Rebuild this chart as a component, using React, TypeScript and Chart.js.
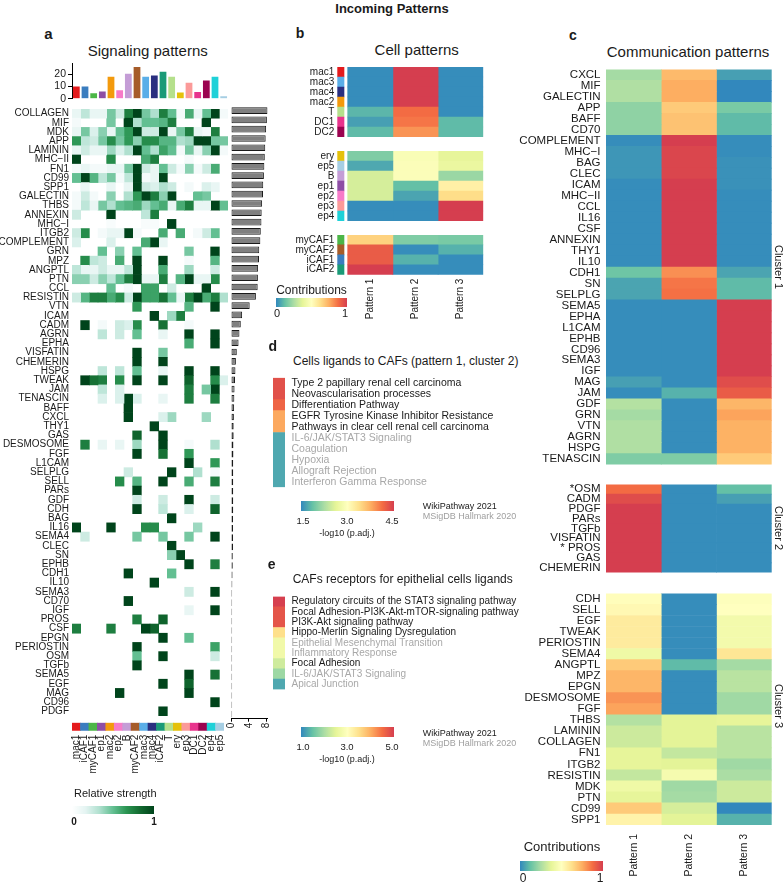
import React, { useEffect, useRef } from 'react';
import { Chart, registerables } from 'chart.js';
Chart.register(...registerables);

const FONT = "'Liberation Sans', Arial, Helvetica, sans-serif";
Chart.defaults.font.family = FONT;
Chart.defaults.color = '#1a1a1a';

// ---------------- DATA ----------------
const aColumns = ['mac1','iCAF1','myCAF1','ep1','mac2','ep2','B','myCAF2','mac3','mac4','iCAF2','T','ery','ep3','DC1','DC2','ep4','ep5'];
const aColumnColors = ['#e41a1c','#3a7dbf','#4cb648','#8e4ea5','#f39a0d','#f77bc8','#c49dd6','#a65c2a','#5aaee8','#2a2f80','#1a9a77','#b5e08c','#e5c10a','#fb9a99','#e8348d','#9b0350','#1fd1d8','#a6cee3'];
const aTopTotals = [10,10,4.5,6,18,7,20.5,26,18,19,22,18,5,13,5.5,15,18,2];
const aRows = ['COLLAGEN','MIF','MDK','APP','LAMININ','MHC\u2212II','FN1','CD99','SPP1','GALECTIN','THBS','ANNEXIN','MHC\u2212I','ITGB2','COMPLEMENT','GRN','MPZ','ANGPTL','PTN','CCL','RESISTIN','VTN','ICAM','CADM','AGRN','EPHA','VISFATIN','CHEMERIN','HSPG','TWEAK','JAM','TENASCIN','BAFF','CXCL','THY1','GAS','DESMOSOME','FGF','L1CAM','SELPLG','SELL','PARs','GDF','CDH','BAG','IL16','SEMA4','CLEC','SN','EPHB','CDH1','IL10','SEMA3','CD70','IGF','PROS','CSF','EPGN','PERIOSTIN','OSM','TGFb','SEMA5','EGF','MAG','CD96','PDGF'];
const aRowTotals = [8.2,8.07,7.9,7.8,7.7,7.6,7.5,7.4,7.25,7.2,7.0,6.9,6.85,6.7,6.6,6.35,6.3,6.1,6.05,6.0,5.6,4.2,2.5,2.2,1.9,1.7,1.3,1.1,1.0,0.9,0.8,0.75,0.7,0.65,0.6,0.6,0.55,0.55,0.5,0.5,0.5,0.5,0.5,0.5,0.45,0.45,0.45,0.45,0.4,0.4,0.35,0.3,0.25,0.25,0.25,0.25,0.25,0.25,0.25,0.25,0.25,0.25,0.25,0.25,0.25,0.25];
const aStrength: number[][] = [
  [0.1,0.25,0.1,0.1,0.45,0.2,0.8,1,0.45,0.3,0.8,0.5,0.05,0.6,0.1,0.5,1,0.05],
  [0.05,0,0,0,0.45,0,1,0.3,0.5,0.5,0.55,0.8,0,0,0,1,0,0],
  [0.1,0.45,0.15,0.4,0.1,0.5,0.7,1,0.2,0.2,1,0.1,0.45,0.8,0.1,0.05,0.8,0],
  [0.7,0.25,0.2,0.45,0.75,0.45,0.7,0.4,0.75,0.75,0.55,0.55,0.3,0.35,1,1,0.45,0.45],
  [0.1,0.2,0.1,0.1,0.35,0.15,0.3,1,0.5,0.3,0.65,0.5,0.05,0.45,0.1,0.4,1,0.05],
  [1,0,0,0,0.75,0,0,0,0.6,0.8,0,0,0,0.05,0,0,0,0],
  [0.05,0.1,0.05,0.05,0.1,0.1,0.45,1,0.2,0.1,0.5,0.2,0.05,0.4,0.05,0.2,0.6,0],
  [0.5,1,0.55,0.25,0.45,0.05,0.25,1,0.05,0.1,1,0,0,0,0,0,0,0],
  [0,0.1,0,0,0.1,0,0.1,1,0.2,0.15,0.3,0.2,0,0.05,0,0.15,0.1,0],
  [0.05,0.2,0.05,0,0.4,0,0.3,0.7,1,0.8,0.4,1,0,0,0.5,0.45,0,0],
  [0.05,0.25,0.1,0.45,0.3,0.5,0.55,0.6,0.35,0.5,0.6,0.1,0.6,0.8,0.1,0.1,1,0.5],
  [0.2,0,0,0,1,0,0,0,0.25,0.8,0,0,0,0,0,0,0,0],
  [0,0,0,0,0.03,0,0,0,0.03,0.03,0,1,0,0,0,0,0,0],
  [0.2,0.75,0,0.05,0.1,0.1,1,0.05,0,0,0.6,0,0.6,0,0.05,0.2,0.5,0],
  [0.15,0,0,0,0.15,0,0,0,0.6,1,0.1,0,0,0,0,0,0,0],
  [0,0,0,0.5,0,0.4,0,0.5,0,0,0,0,0,0.45,0,0,1,0],
  [0,0.75,0.25,0.2,0,0.6,0,1,0,0,1,0,0,0.05,0,0,0.55,0],
  [0.25,0.1,0.1,0.2,0.1,0.1,0.25,1,0,0,0.6,0,0,0.35,0,0,0.2,0],
  [0.4,0.4,0.2,0.4,0.25,0.5,0.8,1,0.1,0.1,0.8,0,0.55,1,0.1,0.1,0.75,0],
  [0,0,0,0,0.5,0,0.05,0,0.65,0.65,0,0.2,0,0,0,1,0,0],
  [0.2,0.55,0.8,0.8,0.6,0.75,0.2,1,0.65,0.65,0.85,0.5,0.1,0.8,1,0.6,0.8,0.3],
  [0,0,0,0,0,0,0,0.7,0,0,0,0,0,0.55,0,0,1,0],
  [0,0,0,0,0,0,0,0,0,1,0,0.35,0.8,0,0,0,0,0],
  [0,1,0,0.05,0,0.2,0.15,0.75,0,0,0.85,0,0,0.05,0,0,0,0],
  [0,0,0,0.25,0,0.2,0,0.5,0,0,0.1,0,0,1,0,0,1,0],
  [0,0,0,0,0,0,0,0,0,0,0,0,0,0.6,0,0,1,0],
  [0,0,0,0,0,0,0,1,0,0,0.45,0,0,0,0,0,0,0],
  [0,0,0,0,0,0,0,1,0,0,1,0,0,0,0,0,0,0],
  [0,0,0,0.25,0,0.25,0,0.5,0,0,0.1,0,0,1,0,0,1,0],
  [0,1,0.85,0.8,0,0.75,0,1,0,0,1,0,0,0.9,0,0,0.75,0.15],
  [0,0,0,0.25,0,0.15,0,0,0,0,0,0,0,0.8,0,0.45,1,0],
  [0,0,0,0.15,0,0.15,1,0.15,0,0,0.1,0,0,0.8,0,0,0.8,0],
  [0,0,0,0,0,0,1,0,0,0,0,0,0,0,0,0,0,0],
  [0,0,0,0,0,0,1,0,0,0,0.15,0.35,0,0,0,0.35,0,0],
  [0,0,0,0,0,0,0,0,0,1,0,0,0,0,0,0,0,0],
  [0,0,0,0,0,0,0,0.9,0,0,1,0,0,0,0,0,0,0],
  [0,0.8,0,0.1,0,0.1,0,0.35,0,0,1,0,0,0.05,0,0,0.3,0],
  [0,0,0,0,0,0,0,1,0,0,0.85,0,0,0.7,0,0,0,0],
  [0,0,0,0,0,0,0,0,0,0,0,0,0,1,0,0,0.7,0],
  [0,0,0,0,0,0,0.2,0,0,0,0,1,0,0,0.3,0,0.05,0],
  [0,0,0,0,0,0.75,0,0.55,0,0,1,0,0,0.6,0,0,0.8,0],
  [0,0,0,0,0,0,0,1,0,0,0,0,0,0,0,0,0,0],
  [0,0,0,0,0,0,0,0.2,0,0,0.2,0,0,1,0,0,0.2,0],
  [0,0,0,0,0,0,0,1,0,0,0.25,0,0,0.15,0,0,0.9,0],
  [0,0,0,0,0,0,0,0,0,0,0,1,0,0,0,0,0,0],
  [1,0,0,0,1,0,0,0,0.75,0.75,0,0,0,0,0.35,0,0,0],
  [0,0.2,0,0,0,0,0,0.45,0,0,0.45,0,0,0.45,0,0,1,0],
  [0,0,0,0,0,0,0,0,0,0,0,1,0,0,0,0,0,0],
  [0,0,0,0,0,0,0,0,0,0,0,0.4,1,0,0,0,0,0],
  [0,0,0,0,0,0,0,0,0,0,0,0,0,1,0,0,0.8,0],
  [0,0,0,0,0,0,1,0,0,0,0,0.5,0,0,0,0,0,0],
  [0,0,0,0,0,0,0,0,0,1,0,0,0,0,0,0,0,0],
  [0,0,0,0,0,0,0,0,0,0,0,0,0,0.2,0,0,1,0],
  [0,0,0,0,0,0,1,0,0,0,0,0,0,0,0,0,0,0],
  [0,0,0,0,0,0,0,0,0,0,0,0,0,0.1,0,0,1,0],
  [0,0,0,0,0,0,0,0.8,0,0,0.9,0,0,0,0,0,0,0],
  [0.8,0,0,0,0.8,0,0,0,1,0.9,0,0,0,0,0,0,0,0],
  [0,0,0,0,0,0,0,0,0,0,1,0,0,0.5,0,0,0,0],
  [0,0,0,0,0,0,0,1,0,0,0,0,0,0,0,0,0.65,0],
  [0,0,0,0,0,0,0,0.5,0,0,1,0,0,0,0,0,0.2,0],
  [0,0,0,0,0,0,0,1,0,0,0,0,0,0,0,0,0,0],
  [0,0,0,0,0,0,0,0,0,0,0,0,0,1,0,0,0.85,0],
  [0,0,0,0,0,0,0,0,0,0,1,0,0,0.9,0,0,0,0],
  [0,0,0,0,0,1,0,0,0,0,0,0,0,1,0,0,0,0],
  [0,0,0,0,0,0,0,0,0,0,0,0,0,0,0,0,1,0],
  [0,0,0,0,0,0,0,0,0,0,1,0,0,0,0,0,0,0],
];

const patternLabels = ['Pattern 1','Pattern 2','Pattern 3'];

const bRows1 = ['mac1','mac3','mac4','mac2','T','DC1','DC2'];
const bVals1 = [[0.01,1,0.01],[0.01,1,0.01],[0.01,1,0.01],[0.01,1,0.01],[0.1,0.88,0.01],[0.05,0.86,0.11],[0.11,0.8,0.11]];
const bRows2 = ['ery','ep5','B','ep1','ep2','ep3','ep4'];
const bVals2 = [[0.17,0.47,0.38],[0.07,0.48,0.4],[0.34,0.48,0.22],[0.34,0.12,0.56],[0.34,0.06,0.63],[0.01,0.01,1],[0.01,0.01,1]];
const bRows3 = ['myCAF1','myCAF2','iCAF1','iCAF2'];
const bVals3 = [[0.66,0.17,0.16],[0.92,0.01,0.09],[0.92,0.09,0.01],[1,0.01,0.01]];

const cRows1 = ['CXCL','MIF','GALECTIN','APP','BAFF','CD70','COMPLEMENT','MHC\u2212I','BAG','CLEC','ICAM','MHC\u2212II','CCL','IL16','CSF','ANNEXIN','THY1','IL10','CDH1','SN','SELPLG','SEMA5','EPHA','L1CAM','EPHB','CD96','SEMA3','IGF','MAG','JAM','GDF','GRN','VTN','AGRN','HSPG','TENASCIN'];
const cVals1 = [
  [0.24,0.72,0.05],[0.26,0.75,0.0],[0.26,0.75,0.0],[0.2,0.68,0.16],[0.2,0.7,0.11],[0.2,0.7,0.11],
  [0.01,1,0.01],[0.03,0.98,0.01],[0.03,0.98,0.02],[0.03,0.98,0.02],[0.01,1,0.02],[0.01,1,0.01],
  [0.01,1,0.01],[0.01,1,0.01],[0.01,1,0.01],[0.01,1,0.01],[0.01,1,0.01],[0.01,1,0.01],
  [0.14,0.81,0.06],[0.06,0.86,0.11],[0.06,0.87,0.11],[0.01,0.01,1],[0.01,0.01,1],[0.01,0.01,1],
  [0.01,0.01,1],[0.01,0.01,1],[0.01,0.01,1],[0.01,0.01,1],[0.05,0.01,0.96],[0.01,0.09,0.92],
  [0.27,0.01,0.73],[0.24,0.01,0.77],[0.26,0.01,0.74],[0.26,0.01,0.74],[0.26,0.01,0.74],[0.17,0.17,0.68],
];
const cRows2 = ['*OSM','CADM','PDGF','PARs','TGFb','VISFATIN','* PROS','GAS','CHEMERIN'];
const cVals2 = [[0.88,0.01,0.12],[0.96,0.01,0.05],[1,0.01,0.01],[1,0.01,0.01],[1,0.01,0.01],[1,0.01,0.01],[1,0.01,0.01],[1,0.01,0.01],[1,0.01,0.01]];
const cRows3 = ['CDH','SELL','EGF','TWEAK','PERIOSTIN','SEMA4','ANGPTL','MPZ','EPGN','DESMOSOME','FGF','THBS','LAMININ','COLLAGEN','FN1','ITGB2','RESISTIN','MDK','PTN','CD99','SPP1'];
const cVals3 = [
  [0.51,0.01,0.49],[0.53,0.01,0.5],[0.58,0.01,0.44],[0.58,0.01,0.44],[0.58,0.01,0.44],[0.42,0.01,0.6],
  [0.68,0.11,0.24],[0.73,0.01,0.28],[0.73,0.01,0.28],[0.8,0.01,0.23],[0.77,0.01,0.23],[0.27,0.37,0.38],
  [0.32,0.37,0.28],[0.32,0.37,0.28],[0.38,0.3,0.28],[0.38,0.37,0.23],[0.3,0.45,0.25],[0.42,0.23,0.32],
  [0.38,0.24,0.32],[0.68,0.34,0.0],[0.55,0.37,0.09],
];

const dTerms = ['Type 2 papillary renal cell carcinoma','Neovascularisation processes','Differentiation Pathway','EGFR Tyrosine Kinase Inhibitor Resistance','Pathways in clear cell renal cell carcinoma','IL-6/JAK/STAT3 Signaling','Coagulation','Hypoxia','Allograft Rejection','Interferon Gamma Response'];
const dScores = [4.35,4.35,4.2,3.78,3.78,1.71,1.71,1.71,1.71,1.71];
const dSources = ['wiki','wiki','wiki','wiki','wiki','msig','msig','msig','msig','msig'];
const eTerms = ['Regulatory circuits of the STAT3 signaling pathway','Focal Adhesion-PI3K-Akt-mTOR-signaling pathway','PI3K-Akt signaling pathway','Hippo-Merlin Signaling Dysregulation','Epithelial Mesenchymal Transition','Inflammatory Response','Focal Adhesion','IL-6/JAK/STAT3 Signaling','Apical Junction'];
const eScores = [4.98,4.76,4.76,3.5,2.72,2.72,2.3,1.9,1.28];
const eSources = ['wiki','wiki','wiki','wiki','msig','msig','wiki','msig','msig'];

// ---------------- COLOUR HELPERS ----------------
type Stop = [number, string];
const SPECTRAL: Stop[] = [[0,'#3288bd'],[0.125,'#66c2a5'],[0.25,'#abdda4'],[0.375,'#e6f598'],[0.5,'#ffffbf'],[0.625,'#fee08b'],[0.75,'#fdae61'],[0.875,'#f46d43'],[1,'#d53e4f']];
const GREENS: Stop[] = [[0,'#ffffff'],[0.12,'#e4f4f2'],[0.3,'#b0e0cf'],[0.5,'#63bf92'],[0.72,'#2a9451'],[0.88,'#12692f'],[1,'#00441b']];
function hex(h: string) { return [parseInt(h.slice(1,3),16),parseInt(h.slice(3,5),16),parseInt(h.slice(5,7),16)]; }
function ramp(stops: Stop[], t: number) {
  t = Math.max(0, Math.min(1, t));
  for (let i = 1; i < stops.length; i++) {
    if (t <= stops[i][0]) {
      const [t0,c0] = stops[i-1]; const [t1,c1] = stops[i];
      const f = (t - t0) / (t1 - t0); const a = hex(c0), b = hex(c1);
      return `rgb(${Math.round(a[0]+(b[0]-a[0])*f)},${Math.round(a[1]+(b[1]-a[1])*f)},${Math.round(a[2]+(b[2]-a[2])*f)})`;
    }
  }
  return stops[stops.length-1][1];
}
const spectral = (t: number) => ramp(SPECTRAL, t);
const greens = (t: number) => (t <= 0 ? 'rgba(0,0,0,0)' : ramp(GREENS, t));
const cellColor: Record<string,string> = {};
aColumns.forEach((c, i) => { cellColor[c] = aColumnColors[i]; });
const SPECTRAL_CSS = `linear-gradient(to right, ${SPECTRAL.map(s => s[1]).join(',')})`;
const GREENS_CSS = `linear-gradient(to right, ${GREENS.map(s => s[1]).join(',')})`;

// ---------------- CHART HELPERS ----------------
function baseOpts(pad: any, scales: any, extra: any = {}) {
  return {
    responsive: false, animation: false, devicePixelRatio: 1,
    layout: { padding: pad },
    plugins: { legend: { display: false }, tooltip: { enabled: false } },
    scales, ...extra,
  };
}
function heatDatasets(vals: number[][], nCols: number, colorFn: (v: number) => string) {
  const ds: any[] = [];
  for (let j = 0; j < nCols; j++) {
    ds.push({ data: vals.map(() => [j, j + 1]), backgroundColor: vals.map(r => colorFn(r[j])), borderWidth: 0, barPercentage: 1, categoryPercentage: 1, grouped: false });
  }
  return ds;
}
const noGrid = { display: false, drawTicks: false };
const patternAxis = (min: number, size: number, pad: number, h: number) => ({
  type: 'linear', min, max: 3,
  afterBuildTicks: (s: any) => { s.ticks = [0.5, 1.5, 2.5].map(v => ({ value: v })); },
  afterFit: (s: any) => { s.height = h; },
  grid: noGrid, border: { display: false },
  ticks: { font: { size }, padding: pad, minRotation: 90, maxRotation: 90, color: '#1a1a1a', callback: (v: number) => patternLabels[Math.round(v - 0.5)] },
});

function ChartBox({ l, t, w, h, config }: { l: number; t: number; w: number; h: number; config: any }) {
  const ref = useRef<HTMLCanvasElement>(null);
  useEffect(() => {
    const chart = new Chart(ref.current as HTMLCanvasElement, config);
    return () => chart.destroy();
  }, []);
  return <canvas ref={ref} width={w} height={h} style={{ position: 'absolute', left: l, top: t, width: w, height: h }} />;
}

function Txt({ x, y, size, children, align = 'left', bold = false, color = '#1a1a1a', rotate = 0 }: any) {
  const tx = align === 'center' ? '-50%' : align === 'right' ? '-100%' : '0';
  return (
    <div style={{ position: 'absolute', left: x, top: y, fontSize: size, lineHeight: 1, fontWeight: bold ? 700 : 400, color, whiteSpace: 'nowrap', transform: `translate(${tx}, -50%)${rotate ? ` rotate(${rotate}deg)` : ''}` }}>{children}</div>
  );
}
function Grad({ x, y, w, h, bg }: any) {
  return <div style={{ position: 'absolute', left: x, top: y, width: w, height: h, background: bg }} />;
}

// ---------------- CONFIGS ----------------
const aTopConfig = {
  type: 'bar',
  data: { labels: aColumns, datasets: [{ data: aTopTotals, backgroundColor: aColumnColors, barPercentage: 0.78, categoryPercentage: 1, borderWidth: 0 }] },
  options: baseOpts({ left: 0, right: 6, top: 8, bottom: 5.3 }, {
    x: { display: false },
    y: {
      min: 0, max: 29,
      afterBuildTicks: (s: any) => { s.ticks = [0, 10, 20].map(v => ({ value: v })); },
      afterFit: (s: any) => { s.width = 72; },
      grid: { display: true, drawOnChartArea: false, drawTicks: true, tickLength: 4, color: '#000' },
      border: { display: true, color: '#000' },
      ticks: { font: { size: 10.5 }, padding: 2, color: '#1a1a1a' },
    },
  }),
};

const aHeatConfig = {
  type: 'bar',
  data: { labels: aRows, datasets: heatDatasets(aStrength, aColumns.length, greens) },
  options: { indexAxis: 'y', ...baseOpts({ left: 0, right: 6, top: 6, bottom: 6.3 }, {
    x: { display: false, type: 'linear', min: 0, max: aColumns.length },
    y: { afterFit: (s: any) => { s.width = 72; }, grid: noGrid, border: { display: false }, ticks: { font: { size: 10 }, padding: 3, autoSkip: false, color: '#1a1a1a' } },
  }) },
};

const aStripConfig = {
  type: 'bar',
  data: { labels: aColumns, datasets: [{ data: aColumns.map(() => [0, 1]), backgroundColor: aColumnColors, barPercentage: 1, categoryPercentage: 1, borderWidth: 0 }] },
  options: baseOpts({ left: 72, right: 8, top: 6.7, bottom: 0 }, {
    y: { display: false, min: 0, max: 1 },
    x: { afterFit: (s: any) => { s.height = 59.3; }, grid: noGrid, border: { display: false }, ticks: { font: { size: 10 }, padding: 4, minRotation: 90, maxRotation: 90, autoSkip: false, color: '#1a1a1a' } },
  }),
};

const aRightConfig = {
  type: 'bar',
  data: { labels: aRows, datasets: [{ data: aRowTotals, backgroundColor: '#808080', borderColor: '#1a1a1a', borderWidth: 1, borderSkipped: false, barPercentage: 0.72, categoryPercentage: 1 }] },
  options: { indexAxis: 'y', ...baseOpts({ left: 9, right: 12, top: 6, bottom: 0 }, {
    y: { display: false },
    x: {
      min: 0, max: 8.3,
      afterBuildTicks: (s: any) => { s.ticks = [0, 2, 4, 6, 8].map(v => ({ value: v })); },
      afterFit: (s: any) => { s.height = 31.3; },
      grid: { display: true, drawOnChartArea: false, drawTicks: true, tickLength: 3, color: '#000' },
      border: { display: true, color: '#000' },
      ticks: { font: { size: 10 }, padding: 1, minRotation: 90, maxRotation: 90, color: '#1a1a1a' },
    },
  }) },
};

function bConfig(rows: string[], vals: number[][], pad: any, showX: boolean, xh: number) {
  const datasets = heatDatasets(vals, 3, spectral);
  datasets.push({ data: rows.map(() => [-0.23, -0.082]), backgroundColor: rows.map(r => cellColor[r]), borderWidth: 0, barPercentage: 1, categoryPercentage: 1, grouped: false });
  return {
    type: 'bar',
    data: { labels: rows, datasets },
    options: { indexAxis: 'y', ...baseOpts(pad, {
      y: { afterFit: (s: any) => { s.width = 87.3; }, grid: noGrid, border: { display: false }, ticks: { font: { size: 10 }, padding: 3, autoSkip: false, color: '#1a1a1a' } },
      x: showX ? patternAxis(-0.23, 10, 4, xh) : { display: false, type: 'linear', min: -0.23, max: 3 },
    }) },
  };
}

function cConfig(rows: string[], vals: number[][], pad: any, showX: boolean, xh: number) {
  return {
    type: 'bar',
    data: { labels: rows, datasets: heatDatasets(vals, 3, spectral) },
    options: { indexAxis: 'y', ...baseOpts(pad, {
      y: { afterFit: (s: any) => { s.width = 106; }, grid: noGrid, border: { display: false }, ticks: { font: { size: 11.5 }, padding: 5.5, autoSkip: false, color: '#1a1a1a' } },
      x: showX ? patternAxis(0, 10.5, 9, xh) : { display: false, type: 'linear', min: 0, max: 3 },
    }) },
  };
}

function termConfig(terms: string[], scores: number[], sources: string[], lo: number, hi: number, size: number, pad: any) {
  return {
    type: 'bar',
    data: { labels: terms, datasets: [{ data: terms.map(() => [0, 1]), backgroundColor: scores.map(s => spectral((s - lo) / (hi - lo))), borderWidth: 0, barPercentage: 1, categoryPercentage: 1 }] },
    options: { indexAxis: 'y', ...baseOpts(pad, {
      x: { display: false, min: 0, max: 1 },
      y: { position: 'right', afterFit: (s: any) => { s.width = 242; }, grid: noGrid, border: { display: false },
        ticks: { font: { size }, padding: 6.5, autoSkip: false, color: (ctx: any) => (sources[ctx.index] === 'wiki' ? '#1a1a1a' : '#a8a8a8') } },
    }) },
  };
}

// ---------------- APP ----------------
export default function App() {
  return (
    <div style={{ position: 'absolute', left: 0, top: 0, width: 784, height: 882, background: '#fff', fontFamily: FONT, color: '#1a1a1a', overflow: 'hidden' }}>
      <Txt x={392} y={8} size={13} bold align="center">Incoming Patterns</Txt>

      {/* Panel a */}
      <Txt x={48.5} y={33} size={15} bold align="center">a</Txt>
      <Txt x={147.7} y={50} size={15} align="center">Signaling patterns</Txt>
      <ChartBox l={0} t={55} w={234} h={52} config={aTopConfig} />
      <ChartBox l={0} t={100} w={234} h={625} config={aHeatConfig} />
      <ChartBox l={0} t={716} w={236} h={74} config={aStripConfig} />
      <ChartBox l={222} t={100} w={58} h={650} config={aRightConfig} />
      <Txt x={74} y={793} size={11}>Relative strength</Txt>
      <Grad x={72} y={806} w={82} h={8} bg={GREENS_CSS} />
      <Txt x={74} y={822} size={10} bold align="center">0</Txt>
      <Txt x={154} y={822} size={10} bold align="center">1</Txt>

      {/* Panel b */}
      <Txt x={300} y={33} size={14} bold align="center">b</Txt>
      <Txt x={416.7} y={49} size={15} align="center">Cell patterns</Txt>
      <ChartBox l={250} t={58} w={245} h={88} config={bConfig(bRows1, bVals1, { left: 0, right: 11.7, top: 5.3, bottom: 5.7 }, false, 0)} />
      <ChartBox l={250} t={142} w={245} h={88} config={bConfig(bRows2, bVals2, { left: 0, right: 11.7, top: 5.3, bottom: 5.7 }, false, 0)} />
      <ChartBox l={250} t={226} w={245} h={96} config={bConfig(bRows3, bVals3, { left: 0, right: 11.7, top: 4.7, bottom: 0 }, true, 47.3)} />
      <Txt x={311.5} y={290} size={12} align="center">Contributions</Txt>
      <Grad x={276} y={297.5} w={71} h={9} bg={SPECTRAL_CSS} />
      <Txt x={277} y={313} size={11} align="center">0</Txt>
      <Txt x={345} y={313} size={11} align="center">1</Txt>

      {/* Panel d */}
      <Txt x={272.7} y={346} size={14} bold align="center">d</Txt>
      <Txt x={293} y={361} size={12}>Cells ligands to CAFs (pattern 1, cluster 2)</Txt>
      <ChartBox l={265} t={365} w={262} h={135} config={termConfig(dTerms, dScores, dSources, 1.5, 4.5, 10.5, { left: 8, right: 0, top: 7, bottom: 6 })} />
      <Grad x={300.7} y={500.7} w={93.6} h={10} bg={SPECTRAL_CSS} />
      <Txt x={303} y={520.7} size={9.5} align="center">1.5</Txt>
      <Txt x={347} y={520.7} size={9.5} align="center">3.0</Txt>
      <Txt x={392} y={520.7} size={9.5} align="center">4.5</Txt>
      <Txt x={347} y={533} size={9} align="center">-log10 (p.adj.)</Txt>
      <Txt x={422.7} y={506} size={9}>WikiPathway 2021</Txt>
      <Txt x={422.7} y={516} size={9} color="#a0a0a0">MSigDB Hallmark 2020</Txt>

      {/* Panel e */}
      <Txt x={271.7} y={564} size={14} bold align="center">e</Txt>
      <Txt x={292.7} y={579} size={12}>CAFs receptors for epithelial cells ligands</Txt>
      <ChartBox l={265} t={584} w={262} h={118} config={termConfig(eTerms, eScores, eSources, 1.0, 5.0, 10, { left: 8, right: 0, top: 6, bottom: 6 })} />
      <Grad x={300.7} y={727} w={93.6} h={10} bg={SPECTRAL_CSS} />
      <Txt x={303} y={747} size={9.5} align="center">1.0</Txt>
      <Txt x={347} y={747} size={9.5} align="center">3.0</Txt>
      <Txt x={392} y={747} size={9.5} align="center">5.0</Txt>
      <Txt x={347} y={759} size={9} align="center">-log10 (p.adj.)</Txt>
      <Txt x={422.7} y={733} size={9}>WikiPathway 2021</Txt>
      <Txt x={422.7} y={743} size={9} color="#a0a0a0">MSigDB Hallmark 2020</Txt>

      {/* Panel c */}
      <Txt x={573} y={35} size={14} bold align="center">c</Txt>
      <Txt x={688} y={50.5} size={15} align="center">Communication patterns</Txt>
      <ChartBox l={500} t={57} w={284} h={420} config={cConfig(cRows1, cVals1, { left: 0, right: 12.3, top: 5.5, bottom: 6 }, false, 0)} />
      <ChartBox l={500} t={472} w={284} h={113} config={cConfig(cRows2, cVals2, { left: 0, right: 12.3, top: 5.3, bottom: 5.8 }, false, 0)} />
      <ChartBox l={500} t={581} w={284} h={301} config={cConfig(cRows3, cVals3, { left: 0, right: 12.3, top: 5.7, bottom: 0 }, true, 57)} />
      <Txt x={777.5} y={267} size={11} align="center" rotate={90}>Cluster 1</Txt>
      <Txt x={777.5} y={528} size={11} align="center" rotate={90}>Cluster 2</Txt>
      <Txt x={777.5} y={706} size={11} align="center" rotate={90}>Cluster 3</Txt>
      <Txt x={562} y={846} size={13} align="center">Contributions</Txt>
      <Grad x={520} y={860.5} w={83} h={10} bg={SPECTRAL_CSS} />
      <Txt x={523} y={878} size={12} align="center">0</Txt>
      <Txt x={600} y={878} size={12} align="center">1</Txt>
    </div>
  );
}
